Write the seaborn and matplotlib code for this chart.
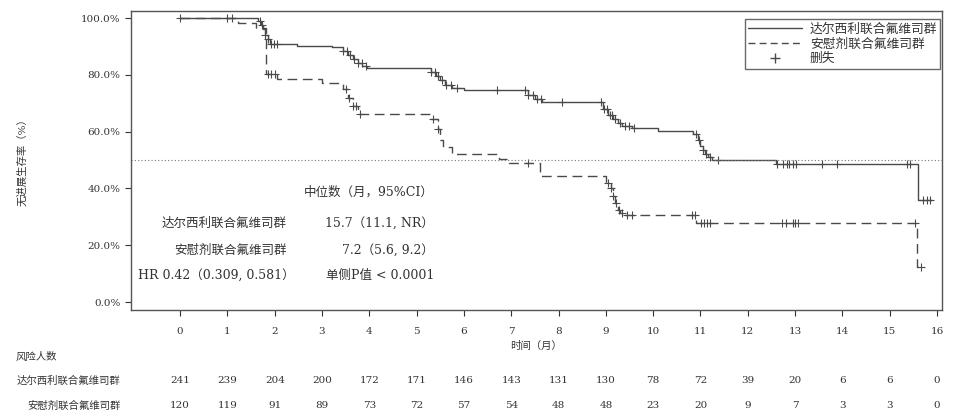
import matplotlib
matplotlib.use('Agg')
import matplotlib.pyplot as plt
import matplotlib.ticker as mticker
from matplotlib.lines import Line2D
import seaborn as sns
import numpy as np
import pandas as pd

# Dane: czasy zdarzeń (miesiące) i przeżycie bez progresji (%)
czas_dal = [0, 1.65, 1.70, 1.75, 1.80, 1.85, 1.90, 2.47, 3.20, 3.45, 3.55, 3.65, 3.75, 3.85, 3.95,
            5.30, 5.40, 5.50, 5.60, 5.75, 6.00, 7.35, 7.50, 7.65, 8.95, 9.05, 9.15, 9.25, 9.35, 9.55,
            10.10, 10.85, 10.95, 11.00, 11.05, 11.10, 11.15, 11.25, 12.60, 15.60, 16.00]
przez_dal = [100, 99, 97.5, 96, 94, 92.5, 90.8, 90.1, 89.7, 88.5, 87, 85.5, 84, 83, 82.4,
             81, 79.5, 78, 76.5, 75.3, 74.6, 73, 71.5, 70.4, 68, 66, 64.5, 63, 62, 61.3,
             60.2, 59, 57, 55, 53.5, 52, 51, 50, 48.6, 35.9, 35.9]
cenzura_dal = [0.0, 1.0, 1.1, 1.68, 1.74, 1.8, 1.86, 1.92, 1.98, 2.05, 3.45, 3.52, 3.6, 3.68, 3.76,
               3.84, 3.92, 5.3, 5.38, 5.46, 5.54, 5.62, 5.72, 5.85, 6.7, 7.3, 7.36, 7.45, 7.55, 7.62,
               8.07, 8.9, 8.96, 9.02, 9.08, 9.14, 9.2, 9.3, 9.4, 9.5, 9.6, 10.9, 10.98, 11.05, 11.12,
               11.2, 11.37, 12.62, 12.75, 12.82, 12.88, 12.95, 13.02, 13.57, 13.89, 15.37, 15.43,
               15.7, 15.78, 15.86]

czas_pla = [0, 1.22, 1.60, 1.82, 2.05, 3.00, 3.45, 3.55, 3.65, 3.77, 5.30, 5.45, 5.50, 5.55, 5.75,
            6.75, 6.95, 7.60, 9.00, 9.10, 9.15, 9.20, 9.25, 9.30, 9.40, 10.90, 15.58, 16.00]
przez_pla = [100, 98.3, 96.5, 80.3, 78.5, 77, 75, 72, 69, 66.2, 64.5, 61, 57, 54.5, 52,
             50.5, 49, 44.4, 42, 40, 37.5, 35, 32.5, 31.5, 30.6, 27.8, 12.3, 12.3]
cenzura_pla = [1.85, 1.92, 2.0, 3.5, 3.57, 3.66, 3.72, 3.8, 5.35, 5.45, 7.35, 9.05, 9.1, 9.16, 9.22,
               9.28, 9.35, 9.45, 9.55, 10.83, 10.88, 11.02, 11.08, 11.14, 11.2, 12.73, 12.8,
               12.95, 13.0, 13.06, 15.54, 15.67]

miesiace = list(range(0, 17))
ryzyko_dal = [241, 239, 204, 200, 172, 171, 146, 143, 131, 130, 78, 72, 39, 20, 6, 6, 0]
ryzyko_pla = [120, 119, 91, 89, 73, 72, 57, 54, 48, 48, 23, 20, 9, 7, 3, 3, 0]

nazwa_dal = '达尔西利联合氟维司群'
nazwa_pla = '安慰剂联合氟维司群'

sns.set_style('white')
plt.rcParams['font.family'] = ['DejaVu Serif', 'Noto Sans CJK SC']
kolor = '#4a4a4a'
kolor_tekst = '#333333'


def cenzura_y(czasy, przez, cenzura):
    # poziom krzywej w momencie cenzury
    idx = np.searchsorted(czasy, cenzura, side='right') - 1
    return np.array(przez)[idx]


df_dal = pd.DataFrame({'t': czas_dal, 's': przez_dal})
df_pla = pd.DataFrame({'t': czas_pla, 's': przez_pla})
cen_dal = pd.DataFrame({'t': cenzura_dal, 's': cenzura_y(czas_dal, przez_dal, cenzura_dal)})
cen_pla = pd.DataFrame({'t': cenzura_pla, 's': cenzura_y(czas_pla, przez_pla, cenzura_pla)})
# ostatni odcinek kończy się na ostatniej cenzurze
df_dal = df_dal[df_dal.t <= 15.9]
df_pla = df_pla[df_pla.t <= 15.7]
df_dal = pd.concat([df_dal, pd.DataFrame({'t': [15.9], 's': [35.9]})])
df_pla = pd.concat([df_pla, pd.DataFrame({'t': [15.67], 's': [12.3]})])

fig = plt.figure(figsize=(9.56, 4.2), dpi=100)
ax = fig.add_axes([0.137, 0.262, 0.848, 0.712])

sns.lineplot(data=df_dal, x='t', y='s', ax=ax, color=kolor, lw=1.0, drawstyle='steps-post',
             estimator=None, sort=False)
sns.lineplot(data=df_pla, x='t', y='s', ax=ax, color=kolor, lw=1.0, drawstyle='steps-post',
             estimator=None, sort=False, dashes=False, linestyle=(0, (7, 4)))
sns.scatterplot(data=cen_dal, x='t', y='s', ax=ax, marker='+', color=kolor, s=30, linewidth=0.8)
sns.scatterplot(data=cen_pla, x='t', y='s', ax=ax, marker='+', color=kolor, s=30, linewidth=0.8)

ax.axhline(50, color='#777777', lw=0.8, ls=(0, (1, 2)))

ax.set_xlim(-1.04, 16.1)
ax.set_ylim(-2.8, 102.5)
ax.set_xticks(miesiace)
ax.set_yticks([0, 20, 40, 60, 80, 100])
ax.yaxis.set_major_formatter(mticker.FuncFormatter(lambda v, p: f'{v:.1f}%'))
ax.tick_params(axis='both', labelsize=7.5, colors=kolor_tekst, length=4, width=0.8, direction='out',
               left=True, bottom=True)
ax.tick_params(axis='x', pad=8)
for sp in ax.spines.values():
    sp.set_color('#555555')
    sp.set_linewidth(1.0)
ax.set_xlabel('时间（月）', fontsize=7.5, color=kolor_tekst, labelpad=4)
ax.set_ylabel('')
fig.text(0.023, 0.62, '无进展生存率（%）', rotation=90, fontsize=7.5, color=kolor_tekst,
         ha='center', va='center')

# Tekst wewnątrz wykresu
kw = dict(fontsize=9, color=kolor_tekst, va='center')
ax.text(5.37, 38.7, '中位数（月，95%CI）', ha='right', **kw)
ax.text(2.26, 27.8, nazwa_dal, ha='right', **kw)
ax.text(5.37, 27.8, '15.7（11.1, NR）', ha='right', **kw)
ax.text(2.26, 18.3, nazwa_pla, ha='right', **kw)
ax.text(5.37, 18.3, '7.2（5.6, 9.2）', ha='right', **kw)
ax.text(2.43, 9.5, 'HR 0.42（0.309, 0.581）', ha='right', **kw)
ax.text(5.37, 9.5, '单侧P值 < 0.0001', ha='right', **kw)

# Legenda
uchwyty = [Line2D([], [], color=kolor, lw=1.0),
           Line2D([], [], color=kolor, lw=1.0, ls=(0, (5, 3))),
           Line2D([], [], color=kolor, marker='+', ls='none', markersize=7)]
leg = ax.legend(uchwyty, [nazwa_dal, nazwa_pla, '删失'], loc='upper right',
                bbox_to_anchor=(0.9985, 0.972), fontsize=9.2, frameon=True, fancybox=False,
                handlelength=4.2, handletextpad=0.6, borderpad=0.25, labelspacing=0.15,
                borderaxespad=0)
leg.get_frame().set_edgecolor('#444444')
leg.get_frame().set_linewidth(1.0)
for t in leg.get_texts():
    t.set_color(kolor_tekst)

# Tabela liczby osób w grupie ryzyka
tr = ax.get_xaxis_transform()
fig.text(0.016, 1 - 357 / 420, '风险人数', fontsize=7.5, color=kolor_tekst, va='center')
fig.text(0.126, 1 - 381 / 420, nazwa_dal, fontsize=7.5, color=kolor_tekst, va='center', ha='right')
fig.text(0.126, 1 - 406 / 420, nazwa_pla, fontsize=7.5, color=kolor_tekst, va='center', ha='right')
for m, a, b in zip(miesiace, ryzyko_dal, ryzyko_pla):
    ax.text(m, -0.237, str(a), transform=tr, fontsize=7.5, color=kolor_tekst, ha='center', va='center')
    ax.text(m, -0.321, str(b), transform=tr, fontsize=7.5, color=kolor_tekst, ha='center', va='center')

fig.savefig('out.png', dpi=100)
